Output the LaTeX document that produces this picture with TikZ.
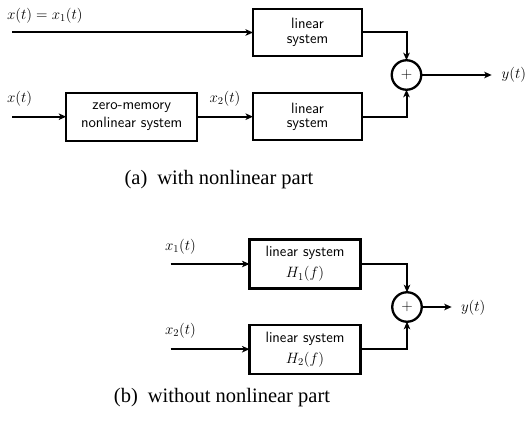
\RequirePackage{fix-cm}
\documentclass[tikz,border=0pt]{standalone}
\usepackage{fontspec}
\newfontfamily\capfont{Liberation Serif}
\usetikzlibrary{arrows.meta}
\begin{document}
\begin{tikzpicture}[x=1pt,y=-1pt,
  every node/.style={inner sep=0pt, outer sep=0pt},
  blk/.style={draw, line width=2.3pt, minimum width=109pt, minimum height=47pt, align=center,
    font=\sffamily\fontsize{15}{14.5}\selectfont},
  blkb/.style={blk, minimum width=111pt, minimum height=49pt, font=\sffamily\fontsize{15}{21}\selectfont},
  nlblk/.style={blk, minimum width=131pt, minimum height=48pt, font=\sffamily\fontsize{15}{18}\selectfont},
  sumc/.style={draw, circle, line width=2.3pt, minimum size=29.5pt, font=\fontsize{15}{18}\selectfont},
  sig/.style={line width=2pt, -{Stealth[length=7.5pt,width=6.5pt,inset=2pt]}},
  lbl/.style={anchor=west, font=\fontsize{15}{18}\selectfont},
  captext/.style={font=\capfont\fontsize{20.5}{24}\selectfont}]
\useasboundingbox (0,0) rectangle (525,430);
% ---------- (a)
\node[blk] (L1) at (307.5,32.5) {linear\\system};
\node[nlblk] (NL) at (131.7,116.7) {zero-memory\\nonlinear system};
\node[blk] (L2) at (307.5,116.7) {linear\\system};
\node[sumc] (Sa) at (406.5,75) {$+$};
\coordinate (ina1) at (12,32.5);
\coordinate (ina2) at (12,116.7);
\coordinate (outa) at (491.7,75);
\node[lbl] (la1) at (7,16) {$x(t)=x_1(t)$};
\node[lbl] (la2) at (7,99) {$x(t)$};
\node[lbl, anchor=center] (la3) at (225,99) {$x_2(t)$};
\node[lbl] (la4) at (501.7,75) {$y(t)$};
\draw[sig] (ina1) -- (L1.west);
\draw[sig] (ina2) -- (NL.west);
\draw[sig] (NL.east) -- (L2.west);
\draw[sig] (L1.east) -| (Sa.north);
\draw[sig] (L2.east) -| (Sa.south);
\draw[sig] (Sa.east) -- (outa);
\node[captext] (capa) at (219,180) {(a)\hspace{10pt}with nonlinear part};
% ---------- (b)
\node[blkb] (B1) at (305,264) {linear system\\$H_1(f)$};
\node[blkb] (B2) at (305,349.2) {linear system\\$H_2(f)$};
\node[sumc] (Sb) at (407,307) {$+$};
\coordinate (inb1) at (170.7,264);
\coordinate (inb2) at (170.7,349.2);
\coordinate (outb) at (451.7,307);
\node[lbl] (lb1) at (165,246.7) {$x_1(t)$};
\node[lbl] (lb2) at (165,330.7) {$x_2(t)$};
\node[lbl] (lb3) at (461,307.7) {$y(t)$};
\draw[sig] (inb1) -- (B1.west);
\draw[sig] (inb2) -- (B2.west);
\draw[sig] (B1.east) -| (Sb.north);
\draw[sig] (B2.east) -| (Sb.south);
\draw[sig] (Sb.east) -- (outb);
\node[captext] (capb) at (222,398) {(b)\hspace{10pt}without nonlinear part};
\end{tikzpicture}
\end{document}
